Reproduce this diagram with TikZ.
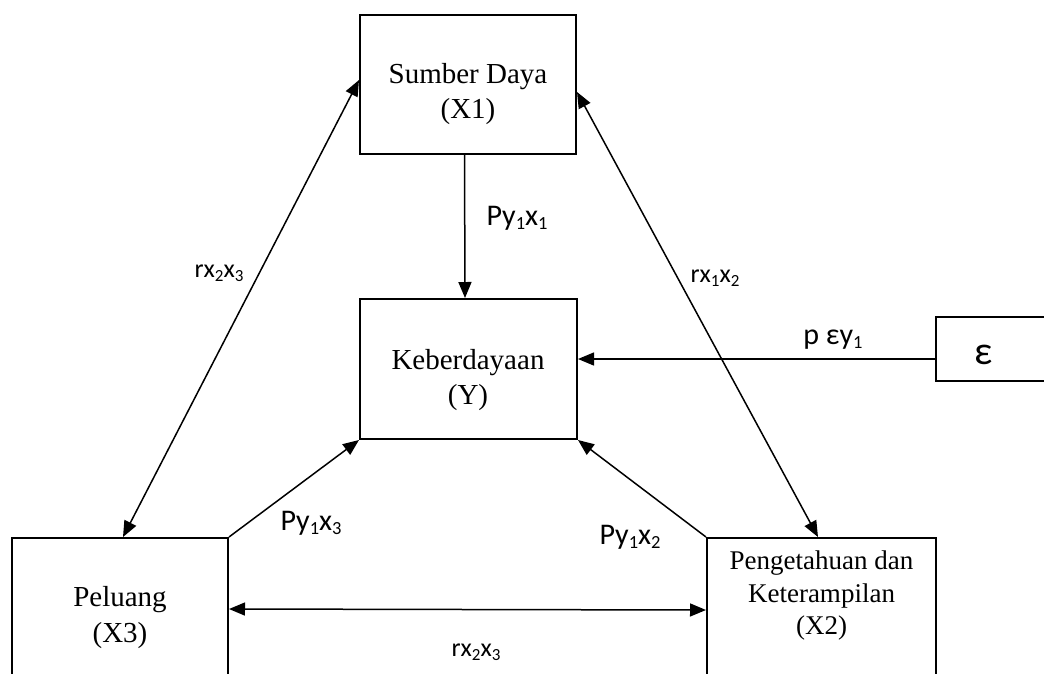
\documentclass[tikz,border=0pt]{standalone}
\usepackage{fontspec}
\setmainfont{Liberation Serif}
\newfontfamily\labfont{Carlito}
\usetikzlibrary{arrows.meta,calc}
\newcommand{\subA}[1]{\raisebox{-4pt}{\fontsize{18.5}{18.5}\selectfont #1}}
\newcommand{\subB}[1]{\raisebox{-3.5pt}{\fontsize{17}{17}\selectfont #1}}
\tikzset{
  box/.style={draw, line width=2pt, inner sep=0pt},
  boxtext/.style={align=center, inner sep=0pt, font=\fontsize{29}{35.5}\selectfont},
  smalltext/.style={align=center, inner sep=0pt, font=\fontsize{27}{32.5}\selectfont},
  arr/.style={line width=1.5pt, -{Triangle[length=16pt,width=13pt]}},
  darr/.style={line width=1.5pt, {Triangle[length=16pt,width=13pt]}-{Triangle[length=16pt,width=13pt]}},
  biglab/.style={inner sep=0pt, font=\labfont\fontsize{30}{30}\selectfont},
  rlab/.style={inner sep=0pt, font=\labfont\fontsize{26}{26}\selectfont},
}
\begin{document}
\begin{tikzpicture}[x=1pt,y=-1pt]
\useasboundingbox (0,0) rectangle (1044,673);
\clip (0,0) rectangle (1044,673);
% boxes
\node[box, minimum width=216, minimum height=139] (x1) at (468,84.5) {};
\node[boxtext] (x1t) at (468,94) {Sumber Daya\\(X1)};
\node[box, minimum width=217, minimum height=140] (y) at (468.5,369) {};
\node[boxtext] (yt) at (468,380) {Keberdayaan\\(Y)};
\node[box, minimum width=216, minimum height=200, anchor=north] (x3) at (120,537) {};
\node[boxtext] (x3t) at (120,617.5) {Peluang\\(X3)};
\node[box, minimum width=229, minimum height=200, anchor=north] (x2) at (821.5,537) {};
\node[smalltext] (x2t) at (821.5,595.5) {Pengetahuan dan\\Keterampilan\\(X2)};
\node[box, minimum width=150, minimum height=64, anchor=west] (eps) at (935,349) {};
\node[inner sep=0pt, font=\labfont\fontsize{40}{40}\selectfont] (epst) at (984,355) {ε};
% connectors
\draw[arr] ([xshift=-3.5pt]x1.south) -- ([xshift=-3.5pt]y.north);
\draw[arr] ([yshift=-10pt]eps.west) -- ([yshift=-10pt]eps.west -| y.east);
\draw[darr] ([yshift=4.5pt]x1.west) -- ([xshift=3pt]x3.north);
\draw[darr] ([yshift=-7.5pt]x1.east) -- ([xshift=-3.5pt]x2.north);
\draw[arr] (x3.north east) -- (y.south west);
\draw[arr] (x2.north west) -- (y.south east);
\draw[darr] ($(x3.north east)+(0,72)$) -- ($(x2.north west)+(0,73)$);
% labels
\node[biglab] (l1) at (517,218) {Py\subA{1}x\subA{1}};
\node[biglab] (l2) at (833,340) {p εy\subA{1}};
\node[biglab] (l3) at (311,523) {Py\subA{1}x\subA{3}};
\node[biglab] (l4) at (630,537) {Py\subA{1}x\subA{2}};
\node[rlab] (l5) at (219,273) {rx\subB{2}x\subB{3}};
\node[rlab] (l6) at (715,278) {rx\subB{1}x\subB{2}};
\node[rlab] (l7) at (476,652) {rx\subB{2}x\subB{3}};
\end{tikzpicture}
\end{document}
